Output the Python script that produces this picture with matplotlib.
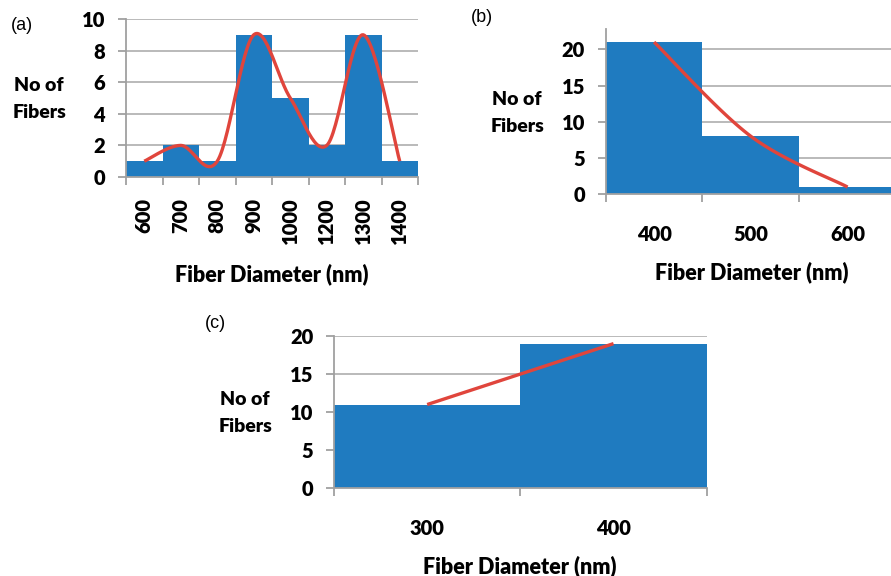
import numpy as np
import matplotlib
matplotlib.use("Agg")
import matplotlib.pyplot as plt

# data
cat_a = ["600", "700", "800", "900", "1000", "1200", "1300", "1400"]
val_a = [1, 2, 1, 9, 5, 2, 9, 1]
cat_b = ["400", "500", "600"]
val_b = [21, 8, 1]
cat_c = ["300", "400"]
val_c = [11, 19]

BLUE = "#1f7bc0"
RED = "#e0453c"
GRID = "#b4b4b4"
AXIS = "#a0a0a0"
W, H = 891, 576
WT = "heavy"

plt.rcParams["font.family"] = ["Lato", "DejaVu Sans"]


def catmull(xs, ys, n=30):
    # Excel-like smoothed line through the points
    xs = np.asarray(xs, float)
    ys = np.asarray(ys, float)
    px = np.concatenate([[xs[0]], xs, [xs[-1]]])
    py = np.concatenate([[ys[0]], ys, [ys[-1]]])
    outx, outy = [], []
    for i in range(1, len(px) - 2):
        t = np.linspace(0, 1, n)
        for arr, out in ((px, outx), (py, outy)):
            p0, p1, p2, p3 = arr[i - 1], arr[i], arr[i + 1], arr[i + 2]
            out.extend(0.5 * ((2 * p1) + (-p0 + p2) * t
                              + (2 * p0 - 5 * p1 + 4 * p2 - p3) * t ** 2
                              + (-p0 + 3 * p1 - 3 * p2 + p3) * t ** 3))
    return outx, outy


def panel(fig, left, right, top, bottom, cats, vals, ymax, ystep, rot,
          xpad, curve):
    ax = fig.add_axes([left / W, 1 - bottom / H, (right - left) / W,
                       (bottom - top) / H])
    x = np.arange(len(cats))
    ax.bar(x, vals, width=1.0, color=BLUE, zorder=2)
    if curve == "smooth":
        cx, cy = catmull(x, vals)
    else:
        cx, cy = x, vals
    ax.plot(cx, cy, color=RED, lw=2.4, zorder=3, solid_capstyle="butt")
    ax.set_xlim(-0.5, len(cats) - 0.5)
    ax.set_ylim(0, ymax)
    ax.set_yticks(np.arange(0, ymax + 0.01, ystep))
    ax.yaxis.grid(True, color=GRID, lw=1.3, zorder=0)
    ax.set_axisbelow(True)
    ax.set_xticks(x)
    ax.set_xticklabels(cats, rotation=rot, fontweight=WT, fontsize=14.5)
    ax.set_xticks(np.arange(len(cats) + 1) - 0.5, minor=True)
    ax.tick_params(axis="x", which="major", length=0, pad=xpad)
    ax.tick_params(axis="x", which="minor", length=6, width=1.3,
                   color=AXIS, direction="out")
    ax.tick_params(axis="y", length=6, width=1.3, color=AXIS, pad=9,
                   labelsize=14.5)
    for lab in ax.get_yticklabels():
        lab.set_fontweight(WT)
    for s in ("top", "right"):
        ax.spines[s].set_visible(False)
    for s in ("left", "bottom"):
        ax.spines[s].set_color(AXIS)
        ax.spines[s].set_linewidth(1.3)
    return ax


fig = plt.figure(figsize=(W / 100, H / 100), dpi=100)

panel(fig, 126, 418, 19, 177, cat_a, val_a, 10, 2, 90, 15, "smooth")
panel(fig, 605.7, 896, 29, 194.3, cat_b, val_b, 22.8, 5, 0, 22, "smooth")
panel(fig, 334, 706.7, 336, 488.3, cat_c, val_c, 20, 5, 0, 22, "line")


def ftext(x, y, s, **kw):
    fig.text(x / W, 1 - y / H, s, ha="center", va="center", **kw)


ylab = "No of\nFibers"
xlab = "Fiber Diameter (nm)"
ftext(39, 99, ylab, fontsize=14, fontweight=WT, linespacing=1.75)
ftext(517, 113, ylab, fontsize=14, fontweight=WT, linespacing=1.75)
ftext(245, 413, ylab, fontsize=14, fontweight=WT, linespacing=1.75)
ftext(272, 274, xlab, fontsize=15.5, fontweight=WT)
ftext(752, 272, xlab, fontsize=15.5, fontweight=WT)
ftext(520, 566, xlab, fontsize=15.5, fontweight=WT)
ftext(22, 25, "(a)", fontsize=13, family="Liberation Sans")
ftext(482, 18, "(b)", fontsize=13, family="Liberation Sans")
ftext(215, 323, "(c)", fontsize=13, family="Liberation Sans")

fig.savefig("out.png", dpi=100)
